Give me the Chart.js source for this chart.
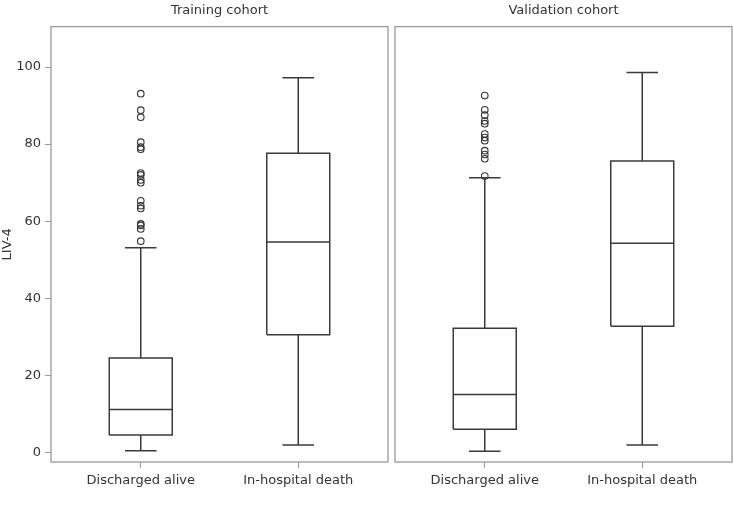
<!DOCTYPE html>
<html>
<head>
<meta charset="utf-8">
<script src="https://cdn.jsdelivr.net/npm/chart.js@4.4.1/dist/chart.umd.min.js"></script>
<style>
  body { margin: 0; background: #fff; }
  #wrap { position: relative; width: 733px; height: 512px; }
  #trainBox { position: absolute; left: 0; top: 0; }
  #validBox { position: absolute; left: 392px; top: 0; }
</style>
</head>
<body>
<div id="wrap">
  <div id="trainBox" style="width:390px;height:512px"><canvas id="trainChart"></canvas></div>
  <div id="validBox" style="width:341px;height:512px"><canvas id="validChart"></canvas></div>
</div>
<script>
// groups on the x axis
const groups = ['Discharged alive', 'In-hospital death'];
const yTicks = [0, 20, 40, 60, 80, 100];

// training cohort (LIV-4)
const trainLow = [0.4, 1.9];
const trainQ1 = [4.5, 30.5];
const trainMedian = [11.1, 54.6];
const trainQ3 = [24.5, 77.6];
const trainHigh = [53.1, 97.2];
const trainOutliers = [93.1, 88.8, 87.0, 80.5, 79.2, 78.7, 72.5, 72.0, 70.7, 70.0,
                       65.3, 64.0, 63.3, 59.3, 58.9, 58.0, 54.8];

// validation cohort (LIV-4)
const validLow = [0.3, 1.9];
const validQ1 = [6.0, 32.7];
const validMedian = [15.0, 54.3];
const validQ3 = [32.2, 75.6];
const validHigh = [71.3, 98.6];
const validOutliers = [92.6, 88.9, 87.5, 86.0, 85.3, 82.6, 81.7, 80.9, 78.3, 77.3, 76.2, 71.7];

const lineColor = '#3a3a3a';
const frameColor = '#9a9a9a';
const textColor = '#333';
Chart.defaults.font.family = '"DejaVu Sans", Verdana, sans-serif';

// build line paths for the boxes, medians and whiskers (null breaks the path)
function boxPaths(low, q1, med, q3, high) {
    var box = [], median = [], whisk = [];
    for (var i = 0; i < low.length; i++) {
        var c = i + 1, hw = 0.2, cw = 0.1;
        box.push({x: c - hw, y: q1[i]}, {x: c + hw, y: q1[i]}, {x: c + hw, y: q3[i]},
                 {x: c - hw, y: q3[i]}, {x: c - hw, y: q1[i]}, {x: c, y: null});
        median.push({x: c - hw, y: med[i]}, {x: c + hw, y: med[i]}, {x: c, y: null});
        whisk.push({x: c, y: q3[i]}, {x: c, y: high[i]}, {x: c, y: null},
                   {x: c - cw, y: high[i]}, {x: c + cw, y: high[i]}, {x: c, y: null},
                   {x: c, y: q1[i]}, {x: c, y: low[i]}, {x: c, y: null},
                   {x: c - cw, y: low[i]}, {x: c + cw, y: low[i]}, {x: c, y: null});
    }
    return {box: box, median: median, whisk: whisk};
}

var frame = {
    id: 'frame',
    afterDatasetsDraw: function(chart) {
        var a = chart.chartArea, ctx = chart.ctx;
        ctx.save();
        ctx.strokeStyle = frameColor;
        ctx.lineWidth = 1.3;
        ctx.strokeRect(a.left, a.top, a.right - a.left, a.bottom - a.top);
        ctx.restore();
    }
};

function makeChart(id, title, low, q1, med, q3, high, outliers, showY, padLeft, padRight) {
    var p = boxPaths(low, q1, med, q3, high);
    var lineStyle = {type: 'line', borderColor: lineColor, borderWidth: 1.5, pointRadius: 0,
                     spanGaps: false, fill: false, tension: 0};
    var pts = outliers.map(function(v) { return {x: 1, y: v}; });
    return new Chart(document.getElementById(id), {
        type: 'scatter',
        data: {
            datasets: [
                Object.assign({label: 'box', data: p.box}, lineStyle),
                Object.assign({label: 'median', data: p.median}, lineStyle),
                Object.assign({label: 'whisker', data: p.whisk}, lineStyle),
                {label: 'outliers', data: pts, pointRadius: 3.3, pointBorderWidth: 1.1,
                 pointBorderColor: '#333', pointBackgroundColor: 'rgba(0,0,0,0)', showLine: false}
            ]
        },
        options: {
            responsive: true,
            maintainAspectRatio: false,
            animation: false,
            layout: {autoPadding: false, padding: {left: padLeft, right: padRight, top: 0, bottom: 0}},
            plugins: {
                legend: {display: false},
                tooltip: {enabled: false},
                title: {display: true, text: title, color: textColor, fullSize: false,
                        font: {size: 13, weight: 'normal'}, padding: {top: 3, bottom: 8}}
            },
            scales: {
                x: {
                    type: 'linear', min: 0.43, max: 2.57,
                    afterBuildTicks: function(axis) { axis.ticks = groups.map(function(g, i) { return {value: i + 1}; }); },
                    afterFit: function(axis) { axis.height = 50; axis.paddingLeft = 0; axis.paddingRight = 0; },
                    grid: {drawOnChartArea: false, tickLength: 6, color: frameColor},
                    border: {display: false},
                    ticks: {color: textColor, font: {size: 13}, padding: 5,
                            callback: function(v) { return groups[v - 1]; }}
                },
                y: {
                    display: showY,
                    min: -2.5, max: 110.5,
                    afterBuildTicks: function(axis) { axis.ticks = yTicks.map(function(v) { return {value: v}; }); },
                    afterFit: function(axis) { axis.width = showY ? 51 : 0; axis.paddingTop = 0; axis.paddingBottom = 0; },
                    grid: {drawOnChartArea: false, tickLength: 6, color: frameColor},
                    border: {display: false},
                    title: {display: true, text: 'LIV-4', color: textColor, font: {size: 13}, padding: 0},
                    ticks: {color: textColor, font: {size: 13}, padding: 4}
                }
            }
        },
        plugins: [frame]
    });
}

document.addEventListener('DOMContentLoaded', function() {
    makeChart('trainChart', 'Training cohort', trainLow, trainQ1, trainMedian, trainQ3, trainHigh,
              trainOutliers, true, 0, 2);
    makeChart('validChart', 'Validation cohort', validLow, validQ1, validMedian, validQ3, validHigh,
              validOutliers, false, 3, 1);
});
</script>
</body>
</html>
